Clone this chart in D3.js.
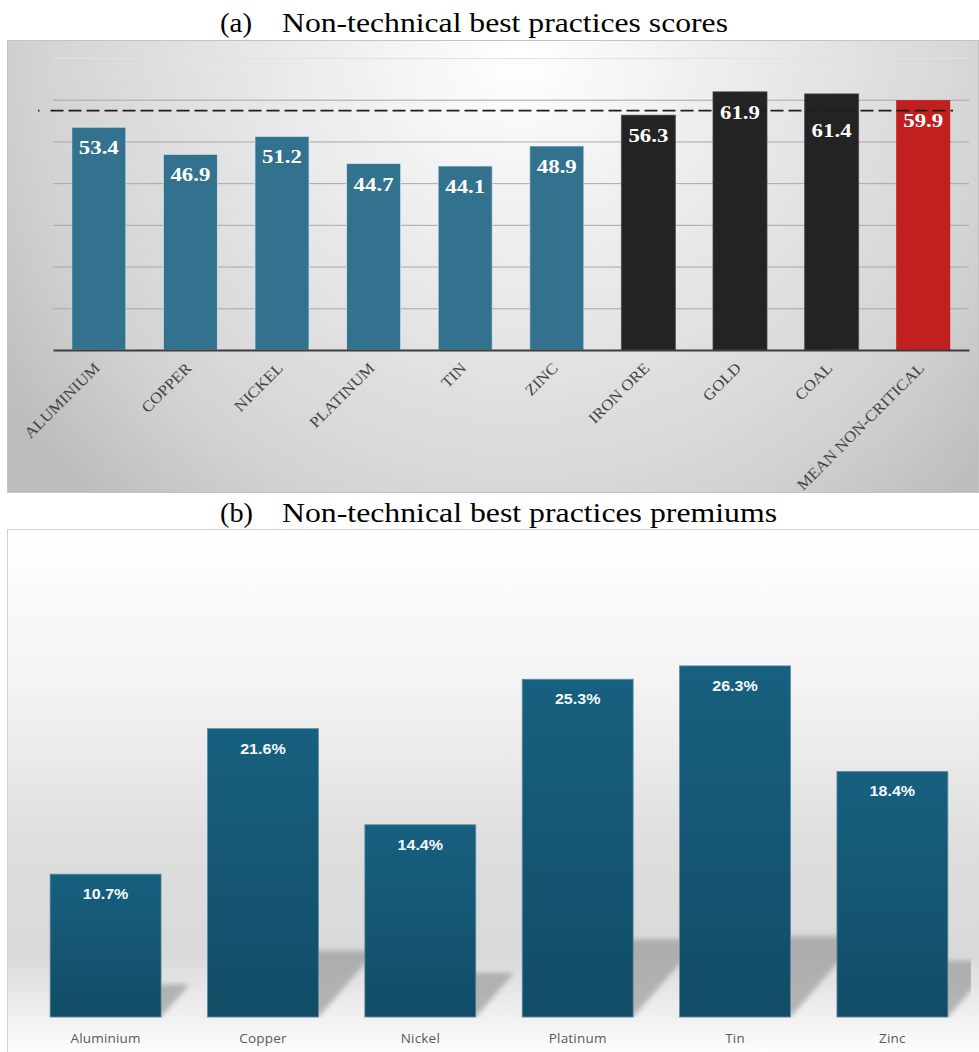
<!DOCTYPE html>
<html>
<head>
<meta charset="utf-8">
<script src="https://cdn.jsdelivr.net/npm/d3@7/dist/d3.min.js"></script>
<style>
  html, body { margin: 0; padding: 0; background: #ffffff; }
  svg { display: block; }
</style>
</head>
<body>
<svg id="chart" width="979" height="1052"></svg>
<script>
// ---------------- DATA ----------------
const scoreCategories = ["ALUMINIUM", "COPPER", "NICKEL", "PLATINUM", "TIN", "ZINC", "IRON ORE", "GOLD", "COAL", "MEAN NON-CRITICAL"];
const scoreValues = [53.4, 46.9, 51.2, 44.7, 44.1, 48.9, 56.3, 61.9, 61.4, 59.9];
const scoreGroups = ["critical", "critical", "critical", "critical", "critical", "critical", "non-critical", "non-critical", "non-critical", "mean"];
const scoreReference = 57.4;
const scoreGridTicks = [10, 20, 30, 40, 50, 60, 70];

const premiumCategories = ["Aluminium", "Copper", "Nickel", "Platinum", "Tin", "Zinc"];
const premiumValues = [10.7, 21.6, 14.4, 25.3, 26.3, 18.4];

const titleA = ["(a)", "Non-technical best practices scores"];
const titleB = ["(b)", "Non-technical best practices premiums"];

// ---------------- HELPERS ----------------
function stretch(sel, k) {
  sel.each(function () {
    const w = this.getComputedTextLength();
    d3.select(this).attr("textLength", w * k).attr("lengthAdjust", "spacingAndGlyphs");
  });
}

// ---------------- SETUP ----------------
const svg = d3.select("#chart");
const defs = svg.append("defs");

const rgA = defs.append("radialGradient").attr("id", "bgA")
  .attr("gradientUnits", "userSpaceOnUse")
  .attr("cx", 520).attr("cy", 50).attr("r", 620);
rgA.append("stop").attr("offset", 0).attr("stop-color", "#ffffff");
rgA.append("stop").attr("offset", 0.4).attr("stop-color", "#e9e9e9");
rgA.append("stop").attr("offset", 0.78).attr("stop-color", "#d3d3d3");
rgA.append("stop").attr("offset", 1).attr("stop-color", "#bdbdbd");

const lgB = defs.append("linearGradient").attr("id", "bgB")
  .attr("x1", 0).attr("y1", 0).attr("x2", 0).attr("y2", 1);
lgB.append("stop").attr("offset", 0).attr("stop-color", "#ffffff");
lgB.append("stop").attr("offset", 0.3).attr("stop-color", "#f3f3f3");
lgB.append("stop").attr("offset", 0.6).attr("stop-color", "#dedede");
lgB.append("stop").attr("offset", 0.8).attr("stop-color", "#d9d9d9");
lgB.append("stop").attr("offset", 0.92).attr("stop-color", "#f1f1f1");
lgB.append("stop").attr("offset", 1).attr("stop-color", "#ffffff");

const barG = defs.append("linearGradient").attr("id", "barB")
  .attr("x1", 0).attr("y1", 0).attr("x2", 0).attr("y2", 1);
barG.append("stop").attr("offset", 0).attr("stop-color", "#17607f");
barG.append("stop").attr("offset", 1).attr("stop-color", "#124c67");

const blur = defs.append("filter").attr("id", "blur")
  .attr("x", "-20%").attr("y", "-20%").attr("width", "140%").attr("height", "140%");
blur.append("feGaussianBlur").attr("stdDeviation", 2.5);

defs.append("clipPath").attr("id", "clipB")
  .append("rect").attr("x", 8).attr("y", 530).attr("width", 963).attr("height", 488);

// ---------------- PANEL A ----------------
const gA = svg.append("g");
gA.append("rect").attr("x", 7.5).attr("y", 40.5).attr("width", 971).attr("height", 452)
  .attr("fill", "url(#bgA)").attr("stroke", "#c4c4c4").attr("stroke-width", 1);

const xA = d3.scaleBand().domain(scoreCategories).range([53, 969])
  .paddingInner(0.41).paddingOuter(0.205);
const yA = d3.scaleLinear().domain([0, 70]).range([350, 58]);

const gridA = gA.append("g").attr("transform", "translate(53,0)")
  .call(d3.axisLeft(yA).tickValues(scoreGridTicks).tickSize(-916).tickFormat(""));
gridA.select(".domain").remove();
gridA.selectAll(".tick line").attr("stroke", "#a8a8a8").attr("stroke-width", 1);
gridA.selectAll(".tick").filter(d => d === 70).select("line").attr("stroke", "#e2e2e2");

const colorA = d3.scaleOrdinal().domain(["critical", "non-critical", "mean"])
  .range(["#33728f", "#232323", "#c21f1f"]);

gA.selectAll("rect.bar").data(scoreValues).join("rect").attr("class", "bar")
  .attr("x", (d, i) => xA(scoreCategories[i]))
  .attr("y", d => yA(d))
  .attr("width", xA.bandwidth())
  .attr("height", d => yA(0) - yA(d))
  .attr("fill", (d, i) => colorA(scoreGroups[i]))
  .attr("stroke", (d, i) => scoreGroups[i] === "critical" ? "#dcecf3" : "#4a4a4a")
  .attr("stroke-opacity", (d, i) => scoreGroups[i] === "mean" ? 0 : 0.7)
  .attr("stroke-width", 1);

const axA = gA.append("g").attr("transform", "translate(0,350)")
  .call(d3.axisBottom(xA).tickSize(0).tickFormat(""));
axA.select(".domain").attr("stroke", "#3c3c3c").attr("stroke-width", 2.2);

const catA = gA.selectAll("text.cat").data(scoreCategories).join("text").attr("class", "cat")
  .attr("transform", d => `translate(${xA(d) + xA.bandwidth() / 2 + 2},369) rotate(-45)`)
  .attr("text-anchor", "end")
  .attr("font-family", "'Liberation Serif', 'Times New Roman', serif")
  .attr("font-size", 15.5)
  .attr("fill", "#444")
  .text(d => d);
stretch(catA, 1.08);

gA.append("line")
  .attr("x1", 38).attr("x2", 953)
  .attr("y1", yA(scoreReference)).attr("y2", yA(scoreReference))
  .attr("stroke", "#1e1e1e").attr("stroke-width", 1.8)
  .attr("stroke-dasharray", [1.5, 11].concat(d3.range(60).flatMap(() => [13, 5])).join(","));

const labelNudgeA = { "COAL": 16 };
const valA = gA.selectAll("text.val").data(scoreValues).join("text").attr("class", "val")
  .attr("x", (d, i) => xA(scoreCategories[i]) + xA.bandwidth() / 2)
  .attr("y", (d, i) => yA(d) + 27 + (labelNudgeA[scoreCategories[i]] || 0))
  .attr("text-anchor", "middle")
  .attr("font-family", "'Liberation Serif', 'Times New Roman', serif")
  .attr("font-weight", "bold")
  .attr("font-size", 19.5)
  .attr("fill", "#ffffff")
  .text(d => d.toFixed(1));
stretch(valA, 1.17);

const tA = svg.append("text").attr("y", 32)
  .attr("font-family", "'Liberation Serif', 'Times New Roman', serif")
  .attr("font-size", 27.5).attr("fill", "#000");
tA.append("tspan").attr("x", 220).attr("textLength", 32).attr("lengthAdjust", "spacingAndGlyphs").text(titleA[0]);
tA.append("tspan").attr("x", 282).attr("textLength", 446).attr("lengthAdjust", "spacingAndGlyphs").text(titleA[1]);

// ---------------- PANEL B ----------------
const gB = svg.append("g");
gB.append("rect").attr("x", 7.5).attr("y", 529.5).attr("width", 975).attr("height", 530)
  .attr("fill", "url(#bgB)").attr("stroke", "#d0d0d0").attr("stroke-width", 1);

const xB = d3.scaleBand().domain(premiumCategories).range([27, 971])
  .paddingInner(0.295).paddingOuter(0.147);
const yB = d3.scaleLinear().domain([0, 30]).range([1017, 616.5]);

const shA = 0.2, shB = 0.23;
gB.append("g").attr("clip-path", "url(#clipB)")
  .selectAll("path.shadow").data(premiumValues).join("path").attr("class", "shadow")
  .attr("d", (d, i) => {
    const x0 = xB(premiumCategories[i]), x1 = x0 + xB.bandwidth();
    const h = yB(0) - yB(d);
    const b = yB(0);
    return `M${x0},${b}L${x1},${b}L${x1 + shA * h},${b - shB * h}L${x0 + shA * h},${b - shB * h}Z`;
  })
  .attr("fill", "#959595").attr("fill-opacity", 0.65)
  .attr("filter", "url(#blur)");

gB.selectAll("rect.barb").data(premiumValues).join("rect").attr("class", "barb")
  .attr("x", (d, i) => xB(premiumCategories[i]))
  .attr("y", d => yB(d))
  .attr("width", xB.bandwidth())
  .attr("height", d => yB(0) - yB(d))
  .attr("fill", "url(#barB)")
  .attr("stroke", "#5f8ea6").attr("stroke-width", 0.8);

const valB = gB.selectAll("text.valb").data(premiumValues).join("text").attr("class", "valb")
  .attr("x", (d, i) => xB(premiumCategories[i]) + xB.bandwidth() / 2)
  .attr("y", d => yB(d) + 25)
  .attr("text-anchor", "middle")
  .attr("font-family", "'Liberation Sans', Arial, sans-serif")
  .attr("font-weight", "bold")
  .attr("font-size", 15)
  .attr("fill", "#f4f8fa")
  .text(d => d.toFixed(1) + "%");
stretch(valB, 1.07);

const axB = gB.append("g").attr("transform", "translate(0,1017)")
  .call(d3.axisBottom(xB).tickSize(0).tickPadding(16));
axB.select(".domain").remove();
axB.selectAll("text")
  .attr("font-family", "'Open Sans', 'Noto Sans', sans-serif")
  .attr("font-size", 13.5)
  .attr("letter-spacing", 0.2)
  .attr("fill", "#595959");

const tB = svg.append("text").attr("y", 522)
  .attr("font-family", "'Liberation Serif', 'Times New Roman', serif")
  .attr("font-size", 27.5).attr("fill", "#000");
tB.append("tspan").attr("x", 220).attr("textLength", 33).attr("lengthAdjust", "spacingAndGlyphs").text(titleB[0]);
tB.append("tspan").attr("x", 282).attr("textLength", 495).attr("lengthAdjust", "spacingAndGlyphs").text(titleB[1]);
</script>
</body>
</html>
